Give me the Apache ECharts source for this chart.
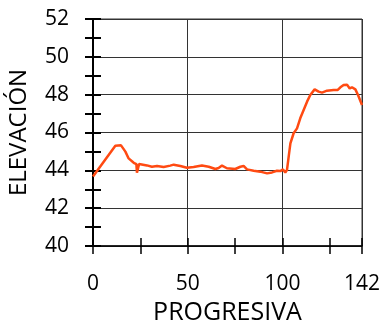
<!DOCTYPE html>
<html style="height: 100%">
   <head>
       <meta charset="utf-8">
   </head>
   <body style="height: 100%; margin: 0; background: #fff">
       <div id="container" style="width: 383px; height: 322px"></div>
       <script type="text/javascript" src="https://cdn.jsdelivr.net/npm/echarts@6/dist/echarts.min.js"></script>
       <script type="text/javascript">
// perfil longitudinal: progresiva vs elevacion
var progresiva = [0, 11.8, 14.8, 17.1, 18.8, 21.5, 22.9, 23.2, 24.3, 28.5, 31.1, 33.8, 37.3, 40.8, 42.6, 46.1, 49.6,
    53.1, 57.5, 61.1, 64.6, 66.3, 68.1, 70.7, 75.1, 77.8, 79.5, 81.3, 84.8, 88.3, 91.9, 94.5, 97.1, 98.0, 98.9,
    100.3, 101.5, 102.4, 103.3, 104.2, 105.9, 107.7, 109.4, 111.2, 113.0, 114.7, 117.0, 119.1, 120.9, 123.5,
    127.0, 129.2, 130.6, 132.3, 134.1, 135.5, 136.7, 138.5, 139.9, 142];
var elevacion = [43.67, 45.30, 45.32, 44.99, 44.63, 44.40, 44.33, 43.88, 44.33, 44.26, 44.19, 44.23, 44.18, 44.25, 44.30, 44.23, 44.14,
    44.18, 44.26, 44.19, 44.07, 44.12, 44.25, 44.11, 44.07, 44.19, 44.23, 44.05, 43.98, 43.93, 43.84, 43.89, 43.98, 44.05, 43.96,
    44.05, 43.89, 44.02, 44.72, 45.43, 45.96, 46.22, 46.75, 47.19, 47.63, 47.98, 48.28, 48.16, 48.11, 48.21,
    48.25, 48.25, 48.39, 48.51, 48.53, 48.33, 48.39, 48.28, 47.98, 47.45];
var xLabels = [0, 50, 100, 142];

var dom = document.getElementById("container");
var myChart = echarts.init(dom);
var font = 'Open Sans';
var axisCol = '#000';
var gridCol = '#333';

function tickAxis(pos, min, max, interval, inside, w) {
    return {
        type: 'value', position: pos, min: min, max: max, interval: interval,
        axisLine: {show: false, onZero: false},
        axisTick: {show: true, inside: inside, length: 8, lineStyle: {color: axisCol, width: w}},
        axisLabel: {show: false},
        splitLine: {show: false}
    };
}

var option = {
    animation: false,
    grid: {
        left: 93, right: 21, top: 19, bottom: 76, outerBoundsMode: 'none', containLabel: false,
        show: true, borderColor: gridCol, borderWidth: 1
    },
    xAxis: [
        {
            type: 'value', position: 'bottom', min: 0, max: 142, interval: 25,
            name: 'PROGRESIVA', nameLocation: 'middle', nameGap: 54,
            nameTextStyle: {fontFamily: font, fontSize: 25, color: '#000'},
            axisLine: {show: true, onZero: false, lineStyle: {color: axisCol, width: 1.5}},
            axisTick: {show: true, length: 8, lineStyle: {color: axisCol, width: 1.5}},
            axisLabel: {
                margin: 28, fontFamily: font, fontSize: 21, color: '#000',
                formatter: function (v) { return xLabels.indexOf(v) >= 0 ? String(v) : ''; }
            },
            splitLine: {show: false}
        },
        tickAxis('bottom', 0, 142, 25, true, 1.5),
        {
            type: 'value', position: 'bottom', min: 0, max: 142, interval: 50,
            axisLine: {show: false, onZero: false},
            axisTick: {show: false},
            axisLabel: {show: false},
            splitLine: {show: true, lineStyle: {color: gridCol, width: 1}}
        }
    ],
    yAxis: [
        {
            type: 'value', position: 'left', min: 40, max: 52, interval: 2,
            name: 'ELEVACIÓN', nameLocation: 'middle', nameGap: 62,
            nameTextStyle: {fontFamily: font, fontSize: 24, color: '#000'},
            axisLine: {show: true, onZero: false, lineStyle: {color: axisCol, width: 2}},
            axisTick: {show: false},
            axisLabel: {margin: 24, fontFamily: font, fontSize: 21, color: '#000'},
            splitLine: {show: true, lineStyle: {color: gridCol, width: 1}}
        },
        tickAxis('left', 40, 52, 1, true, 2),
        tickAxis('left', 40, 52, 1, false, 2)
    ],
    series: [
        {
            type: 'line',
            xAxisIndex: 0,
            yAxisIndex: 0,
            data: progresiva.map(function (p, i) { return [p, elevacion[i]]; }),
            showSymbol: false,
            symbol: 'none',
            lineStyle: {color: '#FF4A12', width: 2.5},
            z: 5
        }
    ]
};
myChart.setOption(option);
       </script>
   </body>
</html>
